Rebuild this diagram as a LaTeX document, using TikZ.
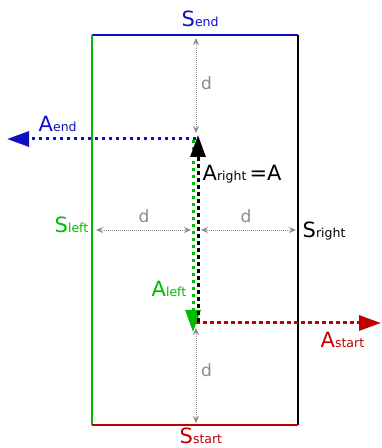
\documentclass[tikz,border=0pt]{standalone}
\usepackage{fontspec}
\setmainfont{DejaVu Sans}
\usetikzlibrary{arrows.meta}
\definecolor{cblue}{HTML}{1010C0}
\definecolor{cgreen}{HTML}{00BB00}
\definecolor{cred}{HTML}{C00000}
\definecolor{cgrey}{HTML}{8C8C8C}
\newcommand\biglab[2]{{\fontsize{21}{21}\selectfont #1}{\fontsize{12.5}{12.5}\selectfont #2}}
\tikzset{
  x=1pt,y=1pt,
  edge/.style={line width=1.6pt},
  motion/.style={line width=3pt,dash pattern=on 3.5pt off 3.5pt,-{Triangle[length=22pt,width=15pt]}},
  dist/.style={cgrey,line width=0.8pt,dash pattern=on 1pt off 1pt,{Stealth[length=7pt,width=6pt]}-{Stealth[length=7pt,width=6pt]}},
  dlab/.style={text=cgrey,font=\fontsize{17}{17}\selectfont,inner sep=0pt,anchor=base west},
  lab/.style={inner sep=0pt,anchor=base west}
}
\begin{document}
\begin{tikzpicture}
\useasboundingbox (0,0) rectangle (381,448);
% rectangle corners
\coordinate (tl) at (92,413);
\coordinate (tr) at (298,413);
\coordinate (br) at (298,23);
\coordinate (bl) at (92,23);
\draw[edge,cblue] (tl) -- (tr);
\draw[edge,cgreen] (tl) -- (bl);
\draw[edge,black] (tr) -- (br);
\draw[edge,cred] (bl) -- (br);
% distance arrows
\coordinate (dt1) at (196,410); \coordinate (dt2) at (196,315);
\coordinate (db1) at (196,120); \coordinate (db2) at (196,25);
\coordinate (dl1) at (96,218);  \coordinate (dl2) at (191,218);
\coordinate (dr1) at (201,218); \coordinate (dr2) at (296,218);
\draw[dist] (dt1) -- (dt2);
\draw[dist] (db1) -- (db2);
\draw[dist] (dl1) -- (dl2);
\draw[dist] (dr1) -- (dr2);
\node[dlab] (d1) at (201,358) {d};
\node[dlab] (d2) at (138.5,225) {d};
\node[dlab] (d3) at (240.5,225) {d};
\node[dlab] (d4) at (201,71) {d};
% motion arrows
\coordinate (g1) at (193,308); \coordinate (g2) at (193,116);
\coordinate (k1) at (198,126); \coordinate (k2) at (198,313);
\coordinate (b1) at (196,309); \coordinate (b2) at (7,309);
\coordinate (r1) at (196,125); \coordinate (r2) at (381,125);
\draw[motion,cblue] (b1) -- (b2);
\draw[motion,cred] (r1) -- (r2);
\draw[motion,cgreen] (g1) -- (g2);
\draw[motion,black] (k1) -- (k2);
% labels
\node[lab,text=cblue] (send) at (181.5,421) {\biglab{S}{end}};
\node[lab,text=cgreen] (sleft) at (54.5,215) {\biglab{S}{left}};
\node[lab,text=black] (sright) at (302.5,210.5) {\biglab{S}{right}};
\node[lab,text=cred] (sstart) at (179.5,4.5) {\biglab{S}{start}};
\node[lab,text=cblue] (aend) at (38.5,316) {\biglab{A}{end}};
\node[lab,text=black] (aright) at (202.5,267) {\biglab{A}{right} {\fontsize{21}{21}\selectfont =A}};
\node[lab,text=cgreen] (aleft) at (151.5,151) {\biglab{A}{left}};
\node[lab,text=cred] (astart) at (320.5,100) {\biglab{A}{start}};
\end{tikzpicture}
\end{document}
